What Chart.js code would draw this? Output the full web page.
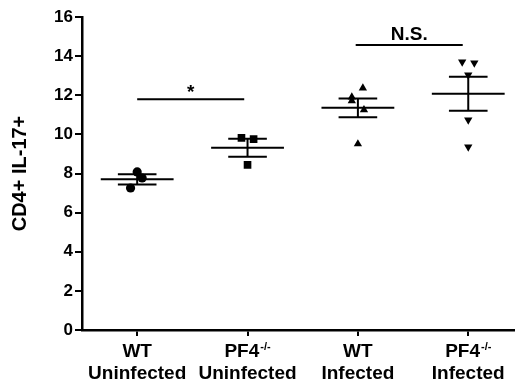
<!DOCTYPE html>
<html>
<head>
<meta charset="utf-8">
<script src="https://cdn.jsdelivr.net/npm/chart.js@4/dist/chart.umd.min.js"></script>
<style>
  html, body { margin: 0; padding: 0; background: #fff; overflow: hidden; }
  #wrap { width: 520px; height: 387px; position: relative; }
</style>
</head>
<body>
<div id="wrap"><canvas id="c"></canvas></div>
<script>
// ---- data ----
const categoryLine1 = ['WT', 'PF4', 'WT', 'PF4'];
const categorySup   = ['', '-/-', '', '-/-'];
const categoryLine2 = ['Uninfected', 'Uninfected', 'Infected', 'Infected'];

const wtUninfected  = [8.08, 7.77, 7.26];
const pf4Uninfected = [9.82, 9.76, 8.44];
const wtInfected    = [12.37, 11.91, 11.71, 11.25, 9.51];
const pf4Infected   = [13.70, 13.65, 13.04, 10.74, 9.36];

// horizontal scatter of the points (in category units)
const wtUninfectedJitter  = [0, 0.045, -0.06];
const pf4UninfectedJitter = [-0.055, 0.055, 0];
const wtInfectedJitter    = [0.045, -0.055, -0.055, 0.055, 0];
const pf4InfectedJitter   = [-0.055, 0.055, 0, 0, 0];

const groupMeans = [7.70, 9.32, 11.36, 12.08];
const groupSems  = [0.26, 0.46, 0.48, 0.87];

const sigFrom   = [1.0, 2.98];
const sigTo     = [1.97, 3.95];
const sigLevel  = [11.8, 14.57];
const sigLabels = ['*', 'N.S.'];

const yTicks = [0, 2, 4, 6, 8, 10, 12, 14, 16];

// ---- build library datasets ----
const FONT = "'Liberation Sans', Arial, Helvetica, sans-serif";
const groups = [wtUninfected, pf4Uninfected, wtInfected, pf4Infected];
const jitters = [wtUninfectedJitter, pf4UninfectedJitter, wtInfectedJitter, pf4InfectedJitter];
const styles = [
  { pointStyle: 'circle', radius: 4.6, rotation: 0 },
  { pointStyle: 'rect', radius: 5.4, rotation: 0 },
  { pointStyle: 'triangle', radius: 4.8, rotation: 0 },
  { pointStyle: 'triangle', radius: 4.8, rotation: 180 }
];

const MEAN_HALF = 0.33, CAP_HALF = 0.175;
const barData = [];
groupMeans.forEach((m, i) => {
  const c = i + 1, s = groupSems[i];
  barData.push({x: c - MEAN_HALF, y: m}, {x: c + MEAN_HALF, y: m}, {x: c, y: null});
  barData.push({x: c - CAP_HALF, y: m + s}, {x: c + CAP_HALF, y: m + s}, {x: c, y: null});
  barData.push({x: c - CAP_HALF, y: m - s}, {x: c + CAP_HALF, y: m - s}, {x: c, y: null});
  barData.push({x: c, y: m + s}, {x: c, y: m - s}, {x: c, y: null});
});

const sigData = [];
sigFrom.forEach((f, i) => {
  sigData.push({x: f, y: sigLevel[i]}, {x: sigTo[i], y: sigLevel[i]}, {x: f, y: null});
});

const datasets = [];
groups.forEach((vals, i) => {
  datasets.push({
    type: 'scatter',
    data: vals.map((v, k) => ({x: i + 1 + jitters[i][k], y: v})),
    pointStyle: styles[i].pointStyle,
    pointRadius: styles[i].radius,
    rotation: styles[i].rotation,
    backgroundColor: '#000',
    borderColor: '#000',
    borderWidth: 0
  });
});
datasets.push({
  type: 'line', data: barData, borderColor: '#000', borderWidth: 2,
  pointRadius: 0, spanGaps: false, fill: false, tension: 0
});
datasets.push({
  type: 'line', data: sigData, borderColor: '#000', borderWidth: 2,
  pointRadius: 0, spanGaps: false, fill: false, tension: 0
});

const labelPlugin = {
  id: 'labels',
  afterDraw(chart) {
    const ctx = chart.ctx;
    const xs = chart.scales.x, ys = chart.scales.y;
    const bottom = chart.chartArea.bottom;
    ctx.save();
    ctx.fillStyle = '#000';
    ctx.textBaseline = 'middle';
    const mainFont = 'bold 19px ' + FONT;
    const supFont = 'bold 11px ' + FONT;
    categoryLine1.forEach((t, i) => {
      const cx = xs.getPixelForValue(i + 1);
      ctx.font = mainFont;
      const w1 = ctx.measureText(t).width;
      ctx.font = supFont;
      const w2 = categorySup[i] ? ctx.measureText(categorySup[i]).width + 1 : 0;
      const start = cx - (w1 + w2) / 2;
      ctx.textAlign = 'left';
      ctx.font = mainFont;
      ctx.fillText(t, start, bottom + 22);
      if (categorySup[i]) {
        ctx.font = supFont;
        ctx.fillText(categorySup[i], start + w1 + 1, bottom + 17);
      }
      ctx.font = mainFont;
      ctx.textAlign = 'center';
      ctx.fillText(categoryLine2[i], cx, bottom + 44);
    });
    // significance labels
    sigLabels.forEach((t, i) => {
      const cx = (xs.getPixelForValue(sigFrom[i]) + xs.getPixelForValue(sigTo[i])) / 2;
      const yy = ys.getPixelForValue(sigLevel[i]);
      ctx.textAlign = 'center';
      ctx.font = 'bold 19px ' + FONT;
      if (t === '*') {
        ctx.fillText(t, cx, yy - 6);
      } else {
        ctx.fillText(t, cx, yy - 10);
      }
    });
    ctx.restore();
  }
};

new Chart(document.getElementById('c'), {
  data: { datasets },
  options: {
    responsive: true,
    maintainAspectRatio: false,
    animation: false,
    layout: { padding: { top: 17, right: 0, bottom: 0, left: 0 } },
    plugins: { legend: { display: false }, tooltip: { enabled: false } },
    scales: {
      x: {
        type: 'linear',
        min: 0.5,
        max: 4.42,
        afterBuildTicks(scale) { scale.ticks = [1, 2, 3, 4].map(v => ({ value: v })); },
        afterFit(scale) { scale.height = 57; scale.paddingLeft = 0; scale.paddingRight = 0; },
        ticks: { display: false },
        grid: { display: true, drawOnChartArea: false, drawTicks: true, tickLength: 6, color: '#000', lineWidth: 2 },
        border: { display: true, color: '#000', width: 2.5 }
      },
      y: {
        type: 'linear',
        min: 0,
        max: 16,
        afterBuildTicks(scale) { scale.ticks = yTicks.map(v => ({ value: v })); },
        afterFit(scale) { scale.width = 82; },
        ticks: { color: '#000', font: { family: FONT, size: 17, weight: 'bold' }, padding: 2 },
        grid: { display: true, drawOnChartArea: false, drawTicks: true, tickLength: 7, color: '#000', lineWidth: 2 },
        border: { display: true, color: '#000', width: 2.5 },
        title: { display: true, text: 'CD4+ IL-17+', color: '#000', font: { family: FONT, size: 20, weight: 'bold' }, padding: { top: 8, bottom: 0 } }
      }
    }
  },
  plugins: [labelPlugin]
});
</script>
</body>
</html>
